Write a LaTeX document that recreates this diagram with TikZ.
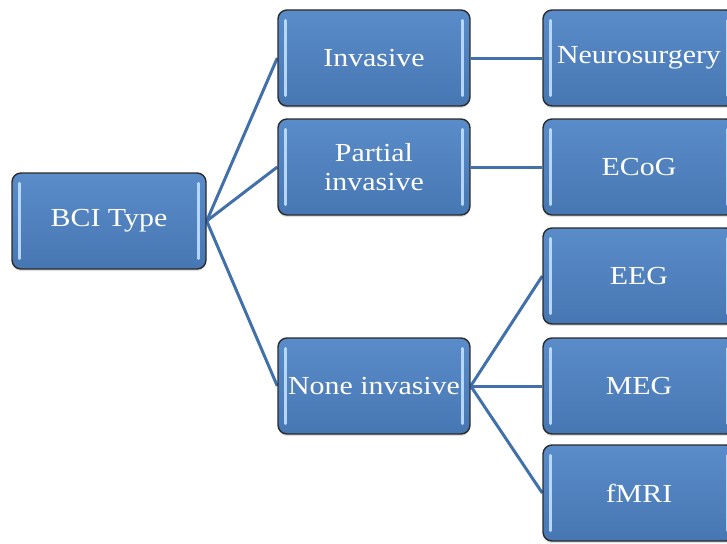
\documentclass[tikz,border=0pt]{standalone}
\usepackage{fontspec}
\setmainfont{Liberation Serif}[FakeStretch=1.15]
\usetikzlibrary{backgrounds,shadows}
\definecolor{boxtop}{HTML}{5A8CC9}
\definecolor{boxbot}{HTML}{4777B3}
\definecolor{boxedge}{HTML}{2B2B2B}
\definecolor{linkblue}{HTML}{4170AA}
\definecolor{shine}{HTML}{C8E6FF}
\tikzset{
  box/.style={draw=boxedge, line width=1.4pt, rounded corners=9pt,
    top color=boxtop, bottom color=boxbot,
    minimum width=192pt, minimum height=96pt, inner sep=0pt,
    text=white, font=\fontsize{26}{29}\selectfont, align=center,
    drop shadow={opacity=0.25, shadow xshift=0pt, shadow yshift=-2pt}},
  link/.style={draw=linkblue, line width=3pt},
  shineline/.style={draw=shine, line width=2.6pt, line cap=round, opacity=0.85}
}
\begin{document}
\begin{tikzpicture}[x=1pt, y=-1pt]
  \useasboundingbox (0,0) rectangle (727,543);
  \clip (0,0) rectangle (727,543);

  % root
  \node[box, minimum width=194pt] (bci) at (109,221) {BCI Type};
  % second level
  \node[box] (inv) at (374,58) {Invasive};
  \node[box] (part) at (374,167) {Partial\\invasive};
  \node[box] (none) at (374,386) {None invasive};
  % leaves
  \node[box] (neuro) at (639,58) {Neurosurgery};
  \node[box] (ecog) at (639,167) {ECoG};
  \node[box] (eeg) at (639,276) {EEG};
  \node[box] (meg) at (639,386) {MEG};
  \node[box] (fmri) at (639,493) {fMRI};

  % bevel highlights near the short sides
  \foreach \n in {bci,inv,part,none,neuro,ecog,eeg,meg,fmri}{
    \draw[shineline] ([xshift=8pt,yshift=-11pt]\n.north west) -- ([xshift=8pt,yshift=11pt]\n.south west);
    \draw[shineline] ([xshift=-8pt,yshift=-11pt]\n.north east) -- ([xshift=-8pt,yshift=11pt]\n.south east);
  }

  % page and connectors behind the boxes
  \begin{scope}[on background layer]
    \fill[white] (0,0) rectangle (727,543);
    \draw[link] (bci.east) -- (inv.west);
    \draw[link] (bci.east) -- (part.west);
    \draw[link] (bci.east) -- (none.west);
    \draw[link] (inv.east) -- (neuro.west);
    \draw[link] (part.east) -- (ecog.west);
    \draw[link] (none.east) -- (eeg.west);
    \draw[link] (none.east) -- (meg.west);
    \draw[link] (none.east) -- (fmri.west);
  \end{scope}
\end{tikzpicture}
\end{document}
